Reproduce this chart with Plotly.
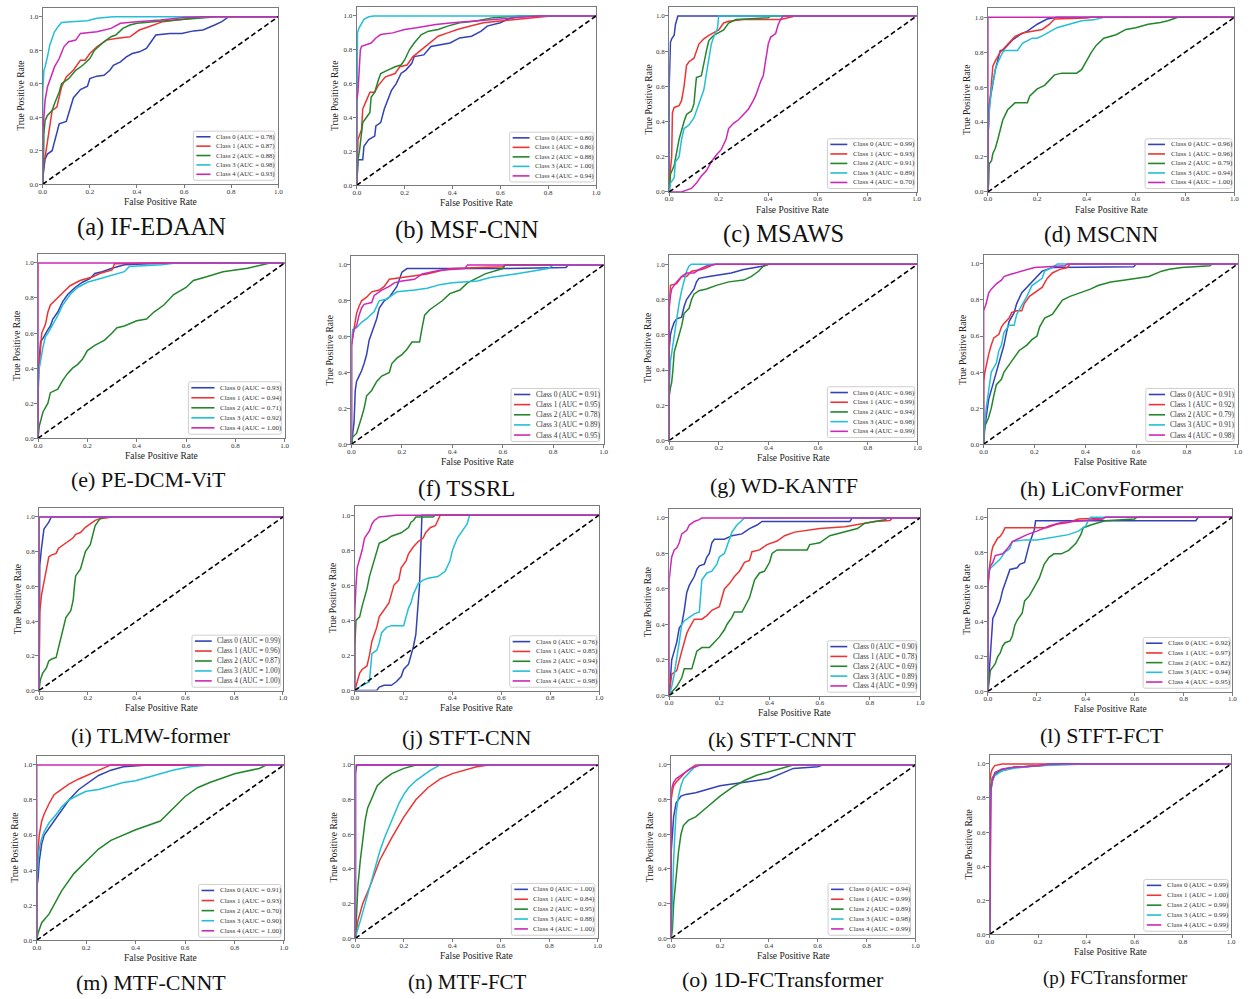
import plotly.graph_objects as go

W, H = 1259, 999
FONT = "Liberation Serif, Times New Roman, serif"

# ---------------- data ----------------
CLASS_LABELS = ["Class 0", "Class 1", "Class 2", "Class 3", "Class 4"]
CLASS_COLORS = ["#3342b5", "#ec3434", "#23862b", "#22bfd6", "#cc28b8"]
TICK_VALUES = [0.0, 0.2, 0.4, 0.6, 0.8, 1.0]
TICK_LABELS = ["0.0", "0.2", "0.4", "0.6", "0.8", "1.0"]
DIAG_FPR = [0.0, 1.0]
DIAG_TPR = [0.0, 1.0]
X_TITLE = "False Positive Rate"
Y_TITLE = "True Positive Rate"

PANEL_KEYS = ["a", "b", "c", "d", "e", "f", "g", "h", "i", "j", "k", "l", "m", "n", "o", "p"]
PANEL_TITLES = ["(a) IF-EDAAN", "(b) MSF-CNN", "(c) MSAWS", "(d) MSCNN",
                "(e) PE-DCM-ViT", "(f) TSSRL", "(g) WD-KANTF", "(h) LiConvFormer",
                "(i) TLMW-former", "(j) STFT-CNN", "(k) STFT-CNNT", "(l) STFT-FCT",
                "(m) MTF-CNNT", "(n) MTF-FCT", "(o) 1D-FCTransformer", "(p) FCTransformer"]

AUC_A = [0.78, 0.87, 0.88, 0.98, 0.93]
AUC_B = [0.80, 0.86, 0.88, 1.00, 0.94]
AUC_C = [0.99, 0.93, 0.91, 0.89, 0.70]
AUC_D = [0.96, 0.96, 0.79, 0.94, 1.00]
AUC_E = [0.93, 0.94, 0.71, 0.92, 1.00]
AUC_F = [0.91, 0.95, 0.78, 0.89, 0.95]
AUC_G = [0.96, 0.99, 0.94, 0.98, 0.99]
AUC_H = [0.91, 0.92, 0.79, 0.91, 0.98]
AUC_I = [0.99, 0.96, 0.87, 1.00, 1.00]
AUC_J = [0.76, 0.85, 0.94, 0.76, 0.98]
AUC_K = [0.90, 0.78, 0.69, 0.89, 0.99]
AUC_L = [0.92, 0.97, 0.82, 0.94, 0.95]
AUC_M = [0.91, 0.93, 0.70, 0.90, 1.00]
AUC_N = [1.00, 0.84, 0.95, 0.88, 1.00]
AUC_O = [0.94, 0.99, 0.89, 0.98, 0.99]
AUC_P = [0.99, 1.00, 0.99, 0.99, 0.99]

# ROC points (fpr, tpr)
A0 = [(0,0),(0.003,0.07),(0.01,0.15),(0.02,0.18),(0.04,0.2),(0.05,0.25),(0.06,0.3),(0.07,0.36),(0.1,0.375),(0.117,0.45),(0.13,0.515),(0.16,0.565),(0.19,0.585),(0.2,0.63),(0.23,0.645),(0.26,0.65),(0.285,0.68),(0.3,0.71),(0.33,0.73),(0.355,0.76),(0.38,0.78),(0.41,0.79),(0.44,0.81),(0.46,0.85),(0.48,0.89),(0.54,0.9),(0.59,0.9),(0.64,0.915),(0.68,0.92),(0.73,0.95),(0.76,0.97),(0.79,1.0),(1,1)]
A1 = [(0,0),(0.005,0.15),(0.01,0.16),(0.03,0.33),(0.04,0.44),(0.06,0.46),(0.08,0.58),(0.1,0.64),(0.13,0.68),(0.16,0.74),(0.18,0.74),(0.2,0.78),(0.23,0.82),(0.27,0.86),(0.31,0.87),(0.37,0.88),(0.41,0.92),(0.45,0.94),(0.51,0.97),(0.57,0.98),(0.62,0.99),(0.68,1.0),(1,1)]
A2 = [(0,0),(0.003,0.1),(0.005,0.3),(0.01,0.38),(0.02,0.41),(0.04,0.44),(0.05,0.48),(0.07,0.55),(0.08,0.6),(0.11,0.63),(0.14,0.68),(0.17,0.71),(0.2,0.75),(0.22,0.8),(0.26,0.85),(0.29,0.88),(0.31,0.89),(0.34,0.93),(0.37,0.95),(0.4,0.96),(0.47,0.97),(0.56,0.98),(0.65,0.99),(0.74,1.0),(1,1)]
A3 = [(0,0),(0,0.55),(0.005,0.68),(0.01,0.7),(0.02,0.76),(0.03,0.83),(0.04,0.87),(0.05,0.91),(0.065,0.94),(0.08,0.965),(0.12,0.97),(0.19,0.975),(0.23,0.99),(0.3,1.0),(1,1)]
A4 = [(0,0),(0,0.3),(0.005,0.4),(0.01,0.5),(0.02,0.58),(0.03,0.62),(0.05,0.7),(0.07,0.75),(0.09,0.82),(0.11,0.85),(0.14,0.86),(0.16,0.9),(0.23,0.91),(0.29,0.93),(0.33,0.96),(0.4,0.97),(0.5,0.98),(0.6,0.995),(0.68,1.0),(1,1)]

B0 = [(0,0),(0.002,0.05),(0.005,0.15),(0.025,0.15),(0.03,0.23),(0.05,0.27),(0.075,0.29),(0.08,0.35),(0.1,0.37),(0.115,0.45),(0.13,0.5),(0.145,0.56),(0.165,0.6),(0.185,0.66),(0.205,0.68),(0.23,0.72),(0.24,0.76),(0.28,0.77),(0.31,0.82),(0.35,0.83),(0.39,0.84),(0.43,0.87),(0.48,0.88),(0.52,0.91),(0.545,0.94),(0.6,0.96),(0.63,0.98),(0.68,1.0),(1,1)]
B1 = [(0,0),(0.002,0.15),(0.005,0.27),(0.02,0.33),(0.025,0.45),(0.04,0.5),(0.055,0.55),(0.075,0.55),(0.09,0.59),(0.12,0.64),(0.16,0.66),(0.18,0.7),(0.21,0.71),(0.235,0.76),(0.27,0.8),(0.3,0.84),(0.34,0.88),(0.38,0.9),(0.42,0.92),(0.475,0.94),(0.53,0.96),(0.6,0.97),(0.68,0.98),(0.76,0.99),(0.81,1.0),(1,1)]
B2 = [(0,0),(0.005,0.15),(0.012,0.21),(0.02,0.31),(0.025,0.37),(0.04,0.4),(0.055,0.43),(0.06,0.52),(0.075,0.55),(0.09,0.62),(0.1,0.66),(0.13,0.68),(0.16,0.7),(0.185,0.71),(0.2,0.74),(0.22,0.8),(0.24,0.84),(0.27,0.89),(0.3,0.91),(0.34,0.92),(0.38,0.94),(0.43,0.96),(0.5,0.97),(0.57,0.99),(0.68,1.0),(1,1)]
B3 = [(0,0),(0,0.7),(0.003,0.9),(0.01,0.93),(0.02,0.96),(0.03,0.98),(0.05,0.995),(0.07,1.0),(1,1)]
B4 = [(0,0),(0,0.5),(0.005,0.55),(0.01,0.7),(0.015,0.8),(0.02,0.82),(0.04,0.83),(0.06,0.84),(0.08,0.87),(0.1,0.89),(0.15,0.9),(0.2,0.92),(0.25,0.93),(0.33,0.95),(0.4,0.96),(0.5,0.97),(0.6,0.98),(0.7,0.99),(0.76,1.0),(1,1)]

C0 = [(0,0),(0,0.6),(0.005,0.85),(0.01,0.87),(0.02,0.89),(0.025,0.95),(0.035,1.0),(1,1)]
C1 = [(0,0),(0.003,0.1),(0.01,0.2),(0.013,0.45),(0.02,0.48),(0.04,0.49),(0.05,0.52),(0.06,0.6),(0.07,0.72),(0.08,0.74),(0.1,0.76),(0.11,0.8),(0.12,0.84),(0.14,0.87),(0.16,0.89),(0.2,0.92),(0.22,0.96),(0.24,0.97),(0.3,0.98),(0.45,0.98),(0.51,1.0),(1,1)]
C2 = [(0,0),(0.005,0.1),(0.02,0.15),(0.03,0.22),(0.04,0.3),(0.06,0.4),(0.07,0.44),(0.09,0.46),(0.1,0.5),(0.105,0.58),(0.11,0.65),(0.13,0.66),(0.14,0.74),(0.15,0.8),(0.16,0.86),(0.18,0.89),(0.22,0.92),(0.24,0.96),(0.27,0.98),(0.4,0.99),(0.41,1.0),(1,1)]
C3 = [(0,0),(0.005,0.05),(0.02,0.08),(0.025,0.17),(0.04,0.2),(0.05,0.3),(0.06,0.36),(0.08,0.38),(0.1,0.42),(0.12,0.5),(0.14,0.58),(0.15,0.67),(0.16,0.75),(0.17,0.84),(0.18,0.88),(0.195,0.93),(0.2,1.0),(1,1)]
C4 = [(0,0),(0.05,0.0),(0.07,0.01),(0.09,0.02),(0.11,0.05),(0.13,0.09),(0.15,0.12),(0.17,0.17),(0.19,0.21),(0.21,0.24),(0.23,0.3),(0.24,0.36),(0.26,0.39),(0.28,0.41),(0.3,0.44),(0.32,0.47),(0.34,0.52),(0.35,0.55),(0.37,0.63),(0.38,0.66),(0.39,0.75),(0.4,0.84),(0.41,0.88),(0.43,0.9),(0.44,0.95),(0.45,0.98),(0.46,1.0),(1,1)]

D0 = [(0,0),(0,0.3),(0.005,0.5),(0.01,0.55),(0.02,0.62),(0.03,0.7),(0.04,0.75),(0.05,0.81),(0.06,0.81),(0.08,0.84),(0.1,0.87),(0.13,0.9),(0.16,0.92),(0.2,0.96),(0.24,0.99),(0.28,1.0),(1,1)]
D1 = [(0,0),(0,0.3),(0.005,0.47),(0.01,0.55),(0.015,0.66),(0.02,0.72),(0.03,0.75),(0.04,0.78),(0.05,0.8),(0.07,0.83),(0.09,0.86),(0.11,0.89),(0.14,0.91),(0.18,0.92),(0.22,0.93),(0.25,0.96),(0.27,0.99),(0.4,0.995),(0.42,1.0),(1,1)]
D2 = [(0,0),(0.003,0.05),(0.005,0.16),(0.015,0.18),(0.02,0.22),(0.03,0.25),(0.04,0.3),(0.05,0.35),(0.06,0.41),(0.08,0.47),(0.1,0.5),(0.11,0.51),(0.16,0.51),(0.17,0.55),(0.2,0.59),(0.23,0.61),(0.25,0.64),(0.27,0.67),(0.3,0.68),(0.36,0.68),(0.38,0.7),(0.4,0.75),(0.42,0.8),(0.44,0.84),(0.47,0.88),(0.52,0.9),(0.56,0.93),(0.6,0.94),(0.65,0.96),(0.7,0.97),(0.73,0.98),(0.77,1.0),(1,1)]
D3 = [(0,0),(0,0.3),(0.005,0.45),(0.01,0.52),(0.015,0.6),(0.02,0.62),(0.03,0.7),(0.04,0.74),(0.05,0.77),(0.06,0.8),(0.07,0.81),(0.12,0.81),(0.14,0.85),(0.18,0.88),(0.2,0.88),(0.23,0.9),(0.28,0.94),(0.33,0.96),(0.38,0.98),(0.43,0.985),(0.47,1.0),(1,1)]
D4 = [(0,0),(0,1.0),(1,1)]

E0 = [(0,0),(0,0.35),(0.005,0.45),(0.01,0.55),(0.02,0.57),(0.03,0.6),(0.04,0.62),(0.05,0.64),(0.06,0.68),(0.08,0.72),(0.1,0.78),(0.12,0.82),(0.15,0.86),(0.18,0.89),(0.21,0.91),(0.23,0.94),(0.26,0.95),(0.3,0.97),(0.35,0.99),(0.45,0.995),(0.57,1.0),(1,1)]
E1 = [(0,0),(0,0.3),(0.005,0.42),(0.01,0.5),(0.015,0.6),(0.03,0.65),(0.04,0.72),(0.05,0.76),(0.07,0.79),(0.1,0.83),(0.13,0.87),(0.17,0.9),(0.22,0.92),(0.25,0.94),(0.3,0.96),(0.31,0.995),(0.48,1.0),(1,1)]
E2 = [(0,0),(0.005,0.07),(0.02,0.15),(0.04,0.2),(0.05,0.26),(0.08,0.28),(0.1,0.33),(0.12,0.37),(0.14,0.4),(0.16,0.42),(0.18,0.45),(0.2,0.5),(0.23,0.53),(0.27,0.56),(0.3,0.6),(0.32,0.63),(0.35,0.64),(0.4,0.67),(0.44,0.68),(0.47,0.72),(0.51,0.76),(0.55,0.82),(0.6,0.86),(0.63,0.9),(0.68,0.92),(0.75,0.95),(0.85,0.97),(0.92,0.99),(0.94,1.0),(1,1)]
E3 = [(0,0),(0,0.25),(0.005,0.4),(0.01,0.45),(0.02,0.52),(0.03,0.58),(0.04,0.6),(0.06,0.65),(0.08,0.7),(0.1,0.76),(0.13,0.82),(0.16,0.86),(0.2,0.89),(0.25,0.91),(0.3,0.93),(0.35,0.95),(0.37,0.98),(0.45,0.985),(0.5,0.99),(0.56,1.0),(1,1)]
E4 = [(0,0),(0,1.0),(1,1)]

F0 = [(0,0),(0.005,0.05),(0.01,0.12),(0.015,0.3),(0.02,0.35),(0.03,0.38),(0.04,0.41),(0.05,0.45),(0.06,0.5),(0.07,0.58),(0.08,0.62),(0.09,0.66),(0.1,0.7),(0.11,0.76),(0.13,0.8),(0.15,0.82),(0.18,0.88),(0.2,0.96),(0.22,0.98),(0.6,0.98),(0.85,0.985),(0.86,1.0),(1,1)]
F1 = [(0,0),(0,0.55),(0.005,0.6),(0.01,0.65),(0.015,0.7),(0.02,0.73),(0.03,0.77),(0.04,0.8),(0.06,0.82),(0.08,0.85),(0.11,0.86),(0.13,0.88),(0.15,0.92),(0.2,0.93),(0.25,0.94),(0.3,0.95),(0.36,0.97),(0.4,0.98),(0.6,0.99),(0.61,1.0),(1,1)]
F2 = [(0,0),(0.005,0.04),(0.02,0.06),(0.03,0.1),(0.04,0.15),(0.05,0.2),(0.06,0.27),(0.08,0.3),(0.1,0.35),(0.12,0.38),(0.15,0.4),(0.16,0.45),(0.18,0.48),(0.2,0.5),(0.22,0.53),(0.24,0.57),(0.27,0.57),(0.28,0.65),(0.29,0.72),(0.31,0.75),(0.33,0.77),(0.36,0.8),(0.39,0.84),(0.43,0.86),(0.46,0.9),(0.49,0.92),(0.53,0.95),(0.6,0.98),(0.61,1.0),(1,1)]
F3 = [(0,0),(0,0.6),(0.005,0.64),(0.02,0.65),(0.04,0.68),(0.06,0.7),(0.09,0.74),(0.11,0.8),(0.14,0.81),(0.16,0.83),(0.18,0.85),(0.25,0.86),(0.3,0.87),(0.35,0.89),(0.4,0.9),(0.5,0.91),(0.55,0.93),(0.65,0.95),(0.7,0.96),(0.78,0.98),(0.8,1.0),(1,1)]
F4 = [(0,0),(0,0.55),(0.005,0.6),(0.01,0.64),(0.02,0.66),(0.03,0.72),(0.04,0.76),(0.05,0.78),(0.08,0.79),(0.09,0.83),(0.12,0.86),(0.15,0.88),(0.17,0.9),(0.2,0.91),(0.25,0.92),(0.28,0.95),(0.35,0.97),(0.45,0.98),(0.46,1.0),(1,1)]

G0 = [(0,0),(0,0.52),(0.005,0.6),(0.01,0.63),(0.02,0.67),(0.03,0.69),(0.05,0.7),(0.06,0.76),(0.07,0.8),(0.08,0.82),(0.1,0.86),(0.11,0.9),(0.12,0.92),(0.16,0.93),(0.2,0.94),(0.25,0.95),(0.3,0.97),(0.35,0.98),(0.38,0.99),(0.4,1.0),(1,1)]
G1 = [(0,0),(0,0.8),(0.005,0.88),(0.03,0.89),(0.04,0.91),(0.05,0.93),(0.07,0.93),(0.09,0.96),(0.13,0.97),(0.15,0.98),(0.18,1.0),(1,1)]
G2 = [(0,0),(0,0.25),(0.005,0.3),(0.01,0.33),(0.015,0.4),(0.02,0.5),(0.03,0.55),(0.04,0.6),(0.05,0.65),(0.06,0.72),(0.08,0.75),(0.09,0.8),(0.1,0.83),(0.12,0.85),(0.15,0.86),(0.19,0.88),(0.24,0.9),(0.3,0.91),(0.33,0.93),(0.36,0.96),(0.38,0.99),(0.4,1.0),(1,1)]
G3 = [(0,0),(0,0.3),(0.005,0.45),(0.01,0.5),(0.02,0.6),(0.03,0.68),(0.04,0.78),(0.05,0.85),(0.06,0.9),(0.07,0.96),(0.08,0.99),(0.09,1.0),(1,1)]
G4 = [(0,0),(0,0.75),(0.005,0.82),(0.01,0.86),(0.02,0.88),(0.03,0.9),(0.05,0.93),(0.07,0.95),(0.1,0.95),(0.12,0.97),(0.15,0.99),(0.19,1.0),(1,1)]

H0 = [(0,0),(0.003,0.08),(0.01,0.15),(0.02,0.25),(0.03,0.3),(0.04,0.35),(0.05,0.4),(0.06,0.45),(0.07,0.5),(0.08,0.55),(0.09,0.62),(0.1,0.68),(0.12,0.73),(0.13,0.78),(0.15,0.84),(0.17,0.87),(0.19,0.9),(0.21,0.93),(0.23,0.96),(0.25,0.97),(0.27,0.98),(0.59,0.985),(0.6,1.0),(1,1)]
H1 = [(0,0),(0,0.35),(0.005,0.4),(0.01,0.44),(0.02,0.5),(0.03,0.55),(0.04,0.59),(0.06,0.61),(0.07,0.65),(0.08,0.67),(0.1,0.7),(0.11,0.73),(0.13,0.74),(0.15,0.74),(0.16,0.78),(0.18,0.82),(0.2,0.84),(0.23,0.87),(0.25,0.92),(0.27,0.95),(0.3,0.97),(0.33,0.98),(0.34,1.0),(1,1)]
H2 = [(0,0),(0.005,0.1),(0.02,0.15),(0.03,0.2),(0.04,0.27),(0.05,0.33),(0.07,0.36),(0.08,0.4),(0.1,0.44),(0.12,0.48),(0.14,0.52),(0.17,0.55),(0.19,0.58),(0.21,0.6),(0.22,0.65),(0.24,0.7),(0.27,0.72),(0.29,0.76),(0.31,0.8),(0.34,0.82),(0.38,0.84),(0.42,0.86),(0.45,0.88),(0.5,0.9),(0.55,0.91),(0.6,0.92),(0.65,0.93),(0.7,0.96),(0.73,0.97),(0.78,0.98),(0.89,0.99),(0.9,1.0),(1,1)]
H3 = [(0,0),(0.003,0.1),(0.01,0.2),(0.02,0.3),(0.03,0.4),(0.05,0.45),(0.06,0.52),(0.07,0.55),(0.08,0.62),(0.1,0.66),(0.12,0.66),(0.13,0.72),(0.15,0.77),(0.17,0.82),(0.19,0.88),(0.21,0.9),(0.23,0.92),(0.24,0.96),(0.27,0.98),(0.29,1.0),(1,1)]
H4 = [(0,0),(0,0.74),(0.01,0.78),(0.015,0.82),(0.02,0.84),(0.03,0.86),(0.05,0.89),(0.07,0.91),(0.08,0.93),(0.1,0.94),(0.15,0.96),(0.2,0.98),(0.32,0.99),(0.33,1.0),(1,1)]

I0 = [(0,0),(0,0.2),(0.003,0.72),(0.01,0.82),(0.015,0.87),(0.02,0.93),(0.03,0.95),(0.04,0.97),(0.05,1.0),(1,1)]
I1 = [(0,0),(0.003,0.45),(0.01,0.55),(0.02,0.62),(0.03,0.68),(0.04,0.77),(0.05,0.78),(0.07,0.79),(0.08,0.82),(0.1,0.84),(0.12,0.86),(0.14,0.88),(0.15,0.9),(0.17,0.91),(0.19,0.94),(0.21,0.96),(0.23,0.98),(0.25,0.99),(0.29,0.995),(0.3,1.0),(1,1)]
I2 = [(0,0),(0.005,0.06),(0.015,0.1),(0.03,0.13),(0.04,0.17),(0.05,0.18),(0.07,0.19),(0.08,0.25),(0.09,0.3),(0.1,0.37),(0.11,0.42),(0.13,0.46),(0.14,0.52),(0.145,0.6),(0.15,0.66),(0.17,0.7),(0.18,0.75),(0.19,0.8),(0.21,0.84),(0.22,0.9),(0.23,0.95),(0.24,0.97),(0.25,0.99),(0.27,1.0),(1,1)]
I3 = [(0,0),(0,1.0),(1,1)]
I4 = [(0,0),(0,1.0),(1,1)]

J0 = [(0,0),(0.09,0.0),(0.1,0.02),(0.12,0.03),(0.15,0.03),(0.17,0.05),(0.19,0.08),(0.2,0.12),(0.22,0.15),(0.23,0.2),(0.24,0.25),(0.25,0.32),(0.255,0.4),(0.26,0.5),(0.265,0.6),(0.27,0.8),(0.275,1.0),(1,1)]
J1 = [(0,0),(0.005,0.02),(0.01,0.05),(0.02,0.1),(0.03,0.12),(0.05,0.14),(0.06,0.2),(0.07,0.28),(0.08,0.32),(0.09,0.36),(0.1,0.42),(0.12,0.46),(0.14,0.5),(0.15,0.55),(0.16,0.6),(0.18,0.63),(0.19,0.7),(0.21,0.74),(0.22,0.78),(0.24,0.82),(0.26,0.85),(0.28,0.87),(0.29,0.9),(0.31,0.93),(0.33,0.94),(0.34,0.97),(0.35,1.0),(1,1)]
J2 = [(0,0),(0,0.25),(0.005,0.4),(0.02,0.42),(0.03,0.48),(0.04,0.53),(0.05,0.58),(0.06,0.65),(0.07,0.7),(0.08,0.75),(0.09,0.8),(0.1,0.84),(0.13,0.86),(0.15,0.88),(0.19,0.9),(0.22,0.93),(0.23,0.96),(0.24,0.97),(0.25,0.99),(0.32,0.99),(0.33,1.0),(1,1)]
J3 = [(0,0),(0.03,0.03),(0.06,0.05),(0.065,0.15),(0.07,0.21),(0.09,0.23),(0.1,0.27),(0.11,0.33),(0.13,0.36),(0.15,0.37),(0.2,0.37),(0.21,0.42),(0.22,0.47),(0.23,0.5),(0.24,0.55),(0.25,0.58),(0.26,0.61),(0.28,0.63),(0.3,0.64),(0.34,0.65),(0.37,0.68),(0.39,0.74),(0.4,0.8),(0.42,0.87),(0.44,0.91),(0.46,0.95),(0.47,1.0),(1,1)]
J4 = [(0,0),(0,0.45),(0.005,0.6),(0.01,0.7),(0.02,0.75),(0.03,0.8),(0.04,0.87),(0.05,0.89),(0.06,0.91),(0.07,0.95),(0.08,0.97),(0.1,0.99),(0.15,0.995),(0.17,1.0),(1,1)]

K0 = [(0,0),(0.005,0.1),(0.01,0.2),(0.02,0.25),(0.03,0.3),(0.04,0.38),(0.05,0.4),(0.06,0.48),(0.07,0.58),(0.08,0.62),(0.1,0.67),(0.11,0.71),(0.12,0.73),(0.14,0.74),(0.15,0.78),(0.16,0.8),(0.17,0.86),(0.18,0.88),(0.22,0.88),(0.25,0.9),(0.29,0.91),(0.32,0.94),(0.35,0.96),(0.37,0.98),(0.72,0.98),(0.73,1.0),(1,1)]
K1 = [(0,0),(0.005,0.05),(0.01,0.12),(0.03,0.14),(0.04,0.2),(0.05,0.25),(0.06,0.3),(0.07,0.35),(0.08,0.38),(0.1,0.43),(0.13,0.43),(0.15,0.45),(0.17,0.48),(0.2,0.5),(0.21,0.55),(0.22,0.6),(0.24,0.63),(0.26,0.67),(0.28,0.7),(0.3,0.75),(0.32,0.76),(0.33,0.81),(0.36,0.82),(0.39,0.85),(0.43,0.87),(0.46,0.9),(0.5,0.92),(0.55,0.93),(0.6,0.94),(0.7,0.95),(0.78,0.97),(0.82,0.98),(0.88,0.985),(0.89,1.0),(1,1)]
K2 = [(0,0),(0.01,0.02),(0.03,0.05),(0.05,0.1),(0.06,0.15),(0.09,0.15),(0.1,0.2),(0.11,0.25),(0.13,0.27),(0.16,0.27),(0.18,0.3),(0.2,0.33),(0.22,0.37),(0.23,0.4),(0.25,0.44),(0.26,0.47),(0.29,0.47),(0.31,0.52),(0.32,0.55),(0.33,0.6),(0.34,0.65),(0.36,0.69),(0.38,0.7),(0.4,0.75),(0.41,0.8),(0.43,0.82),(0.55,0.82),(0.56,0.85),(0.6,0.86),(0.64,0.9),(0.7,0.92),(0.75,0.94),(0.78,0.97),(0.82,0.98),(0.86,0.99),(0.87,1.0),(1,1)]
K3 = [(0,0),(0.01,0.05),(0.02,0.12),(0.03,0.2),(0.04,0.3),(0.05,0.4),(0.06,0.42),(0.08,0.44),(0.1,0.46),(0.12,0.47),(0.125,0.55),(0.13,0.65),(0.15,0.69),(0.17,0.7),(0.19,0.74),(0.2,0.78),(0.22,0.8),(0.23,0.84),(0.24,0.88),(0.25,0.92),(0.27,0.96),(0.29,0.99),(0.3,1.0),(1,1)]
K4 = [(0,0),(0,0.65),(0.005,0.72),(0.01,0.78),(0.02,0.82),(0.03,0.83),(0.04,0.86),(0.05,0.91),(0.07,0.93),(0.08,0.96),(0.1,0.98),(0.12,0.99),(0.13,1.0),(1,1)]

L0 = [(0,0),(0.005,0.1),(0.01,0.2),(0.015,0.35),(0.02,0.42),(0.03,0.45),(0.04,0.48),(0.05,0.52),(0.06,0.58),(0.07,0.62),(0.08,0.67),(0.09,0.7),(0.12,0.71),(0.13,0.73),(0.15,0.74),(0.16,0.8),(0.17,0.85),(0.18,0.89),(0.19,0.93),(0.195,0.98),(0.85,0.98),(0.86,1.0),(1,1)]
L1 = [(0,0),(0,0.6),(0.005,0.7),(0.01,0.76),(0.015,0.8),(0.02,0.83),(0.03,0.86),(0.04,0.88),(0.05,0.89),(0.06,0.91),(0.07,0.94),(0.15,0.94),(0.24,0.94),(0.28,0.96),(0.33,0.97),(0.35,0.98),(0.37,0.99),(0.47,0.995),(0.48,1.0),(1,1)]
L2 = [(0,0),(0.005,0.08),(0.01,0.12),(0.02,0.14),(0.03,0.16),(0.04,0.2),(0.05,0.22),(0.06,0.26),(0.07,0.28),(0.09,0.29),(0.1,0.32),(0.11,0.38),(0.12,0.41),(0.14,0.45),(0.15,0.52),(0.17,0.55),(0.19,0.6),(0.21,0.65),(0.23,0.73),(0.25,0.77),(0.27,0.79),(0.3,0.79),(0.33,0.81),(0.36,0.85),(0.38,0.9),(0.39,0.94),(0.43,0.96),(0.48,0.98),(0.6,0.99),(0.61,1.0),(1,1)]
L3 = [(0,0),(0,0.65),(0.005,0.7),(0.02,0.72),(0.05,0.76),(0.07,0.8),(0.09,0.82),(0.1,0.86),(0.15,0.87),(0.2,0.87),(0.25,0.88),(0.3,0.89),(0.33,0.9),(0.37,0.92),(0.4,0.95),(0.41,0.98),(0.42,1.0),(1,1)]
L4 = [(0,0),(0,0.6),(0.005,0.68),(0.01,0.72),(0.02,0.74),(0.03,0.78),(0.06,0.79),(0.08,0.82),(0.1,0.86),(0.13,0.88),(0.16,0.9),(0.2,0.92),(0.25,0.95),(0.3,0.97),(0.4,0.98),(0.47,0.99),(0.48,1.0),(1,1)]

M0 = [(0,0),(0,0.3),(0.005,0.35),(0.01,0.45),(0.02,0.55),(0.03,0.6),(0.05,0.64),(0.07,0.68),(0.1,0.74),(0.13,0.8),(0.17,0.86),(0.2,0.89),(0.25,0.94),(0.3,0.97),(0.35,0.99),(0.45,1.0),(1,1)]
M1 = [(0,0),(0,0.35),(0.005,0.5),(0.01,0.6),(0.02,0.68),(0.03,0.72),(0.05,0.78),(0.07,0.83),(0.1,0.86),(0.13,0.89),(0.17,0.92),(0.22,0.95),(0.27,0.98),(0.3,1.0),(1,1)]
M2 = [(0,0),(0.005,0.04),(0.02,0.1),(0.05,0.15),(0.1,0.28),(0.15,0.38),(0.2,0.45),(0.25,0.52),(0.3,0.57),(0.4,0.63),(0.5,0.68),(0.55,0.75),(0.6,0.82),(0.65,0.87),(0.7,0.9),(0.8,0.95),(0.9,0.98),(0.93,1.0),(1,1)]
M3 = [(0,0),(0,0.3),(0.005,0.45),(0.01,0.52),(0.02,0.58),(0.03,0.62),(0.05,0.67),(0.08,0.72),(0.1,0.76),(0.13,0.8),(0.17,0.83),(0.2,0.85),(0.25,0.86),(0.3,0.88),(0.35,0.9),(0.4,0.91),(0.45,0.93),(0.5,0.95),(0.55,0.97),(0.62,0.99),(0.7,1.0),(1,1)]
M4 = [(0,0),(0,1.0),(1,1)]

N0 = [(0,0),(0,0.95),(0.005,1.0),(1,1)]
N1 = [(0,0),(0.01,0.1),(0.03,0.2),(0.06,0.3),(0.1,0.45),(0.15,0.58),(0.2,0.7),(0.25,0.8),(0.3,0.87),(0.35,0.92),(0.4,0.95),(0.45,0.97),(0.5,0.99),(0.55,1.0),(1,1)]
N2 = [(0,0),(0.005,0.15),(0.01,0.3),(0.02,0.45),(0.03,0.58),(0.04,0.68),(0.05,0.75),(0.07,0.82),(0.09,0.88),(0.12,0.92),(0.15,0.95),(0.2,0.98),(0.25,1.0),(1,1)]
N3 = [(0,0),(0.005,0.03),(0.02,0.1),(0.04,0.2),(0.06,0.3),(0.08,0.4),(0.1,0.5),(0.12,0.58),(0.14,0.65),(0.16,0.72),(0.18,0.78),(0.2,0.83),(0.22,0.87),(0.25,0.91),(0.28,0.94),(0.31,0.97),(0.35,1.0),(1,1)]
N4 = [(0,0),(0,1.0),(1,1)]

O0 = [(0,0),(0,0.5),(0.005,0.6),(0.01,0.7),(0.02,0.78),(0.04,0.82),(0.06,0.83),(0.1,0.84),(0.15,0.86),(0.2,0.88),(0.3,0.9),(0.4,0.92),(0.45,0.95),(0.5,0.98),(0.6,0.99),(0.62,1.0),(1,1)]
O1 = [(0,0),(0,0.8),(0.005,0.85),(0.01,0.88),(0.02,0.9),(0.04,0.93),(0.06,0.96),(0.08,0.98),(0.1,1.0),(1,1)]
O2 = [(0,0),(0.005,0.05),(0.01,0.2),(0.02,0.35),(0.03,0.5),(0.04,0.6),(0.05,0.65),(0.07,0.68),(0.1,0.7),(0.15,0.76),(0.2,0.82),(0.25,0.87),(0.3,0.91),(0.35,0.94),(0.4,0.96),(0.45,0.98),(0.5,1.0),(1,1)]
O3 = [(0,0),(0.005,0.3),(0.01,0.45),(0.015,0.6),(0.02,0.72),(0.03,0.82),(0.04,0.88),(0.05,0.92),(0.07,0.95),(0.09,0.98),(0.11,1.0),(1,1)]
O4 = [(0,0),(0,0.85),(0.005,0.88),(0.01,0.9),(0.02,0.92),(0.04,0.94),(0.06,0.96),(0.08,0.98),(0.12,1.0),(1,1)]

P0 = [(0,0),(0,0.55),(0.003,0.85),(0.01,0.9),(0.02,0.94),(0.05,0.96),(0.1,0.98),(0.2,0.99),(0.3,1.0),(1,1)]
P1 = [(0,0),(0,0.9),(0.005,0.95),(0.01,0.97),(0.02,0.99),(0.05,1.0),(1,1)]
P2 = [(0,0),(0,0.8),(0.005,0.88),(0.01,0.92),(0.03,0.95),(0.06,0.97),(0.1,0.98),(0.2,0.99),(0.25,1.0),(1,1)]
P3 = [(0,0),(0,0.75),(0.005,0.85),(0.01,0.9),(0.02,0.93),(0.05,0.96),(0.1,0.975),(0.2,0.99),(0.4,1.0),(1,1)]
P4 = [(0,0),(0,0.3),(0.003,0.6),(0.005,0.85),(0.01,0.9),(0.02,0.95),(0.05,0.97),(0.1,0.98),(0.2,0.99),(0.25,1.0),(1,1)]

CURVES = {
    "a": [A0, A1, A2, A3, A4], "b": [B0, B1, B2, B3, B4], "c": [C0, C1, C2, C3, C4], "d": [D0, D1, D2, D3, D4],
    "e": [E0, E1, E2, E3, E4], "f": [F0, F1, F2, F3, F4], "g": [G0, G1, G2, G3, G4], "h": [H0, H1, H2, H3, H4],
    "i": [I0, I1, I2, I3, I4], "j": [J0, J1, J2, J3, J4], "k": [K0, K1, K2, K3, K4], "l": [L0, L1, L2, L3, L4],
    "m": [M0, M1, M2, M3, M4], "n": [N0, N1, N2, N3, N4], "o": [O0, O1, O2, O3, O4], "p": [P0, P1, P2, P3, P4],
}
AUCS = {"a": AUC_A, "b": AUC_B, "c": AUC_C, "d": AUC_D, "e": AUC_E, "f": AUC_F, "g": AUC_G, "h": AUC_H,
        "i": AUC_I, "j": AUC_J, "k": AUC_K, "l": AUC_L, "m": AUC_M, "n": AUC_N, "o": AUC_O, "p": AUC_P}

# ---------------- layout (pixel geometry) ----------------
# axes: x_left, x_right, y_pixel_of_0, y_pixel_of_1
GEOM = {
    "a": (39, 276.3, 185, 16.7), "b": (355.3, 596.3, 186, 16), "c": (670, 919.3, 192.7, 16), "d": (991, 1239.3, 192.7, 17.3),
    "e": (34.3, 282.7, 440, 264), "f": (350, 604, 446, 266), "g": (670, 920, 442.3, 265.3), "h": (986.7, 1242.7, 446, 265),
    "i": (35.3, 281, 693.3, 519), "j": (353.3, 599.3, 693.3, 517.3), "k": (670, 922.7, 698.3, 520), "l": (991, 1237.3, 694.3, 519.3),
    "m": (33, 282, 944, 768), "n": (354, 598, 942, 768), "o": (672, 918, 942, 768), "p": (993, 1236, 938, 767),
}
# legend boxes: left, top, right, bottom, font size
LEG = {
    "a": (190.7, 131.7, 272.7, 181, 6.7), "b": (509.3, 132.7, 594, 182.7, 6.7), "c": (829.3, 139.3, 916.7, 189.3, 7.0),
    "d": (1149.3, 139.3, 1236.7, 189.3, 7.0), "e": (185.7, 383.3, 279.3, 436, 7.0), "f": (510.7, 390, 600, 443.3, 7.3),
    "g": (829.3, 388.3, 917.3, 439.3, 7.0), "h": (1150, 390, 1239.3, 443.3, 7.3), "i": (189.3, 637.7, 278.3, 690, 7.2),
    "j": (509.3, 638.3, 597.3, 690, 7.0), "k": (829.3, 643.3, 919.3, 695, 7.3), "l": (1147.3, 640, 1235, 691, 7.1),
    "m": (196, 888, 279, 941, 7.0), "n": (511, 887, 595, 939, 7.0), "o": (830, 887, 913, 939, 7.0), "p": (1148, 883, 1233, 935, 7.0),
}
# caption center x, center y, font size
CAP = {
    "a": (148.5, 228, 24.5), "b": (466, 231, 24.5), "c": (785.5, 235, 24.5), "d": (1105, 235, 23),
    "e": (146, 481.7, 22), "f": (465.7, 490, 23), "g": (785.8, 487.3, 22), "h": (1106, 490, 22),
    "i": (148, 738.3, 22), "j": (466, 740, 22), "k": (784, 742.3, 22), "l": (1105.8, 738.3, 22),
    "m": (148, 986, 22), "n": (467, 986, 21), "o": (785, 983, 22), "p": (1120, 982, 19),
}


def px(x):
    return x / W


def py(y):
    return 1 - y / H


def rounded_path(l, t, r, b, rad):
    pts = [("M", l + rad, t), ("L", r - rad, t), ("Q", r, t, r, t + rad), ("L", r, b - rad),
           ("Q", r, b, r - rad, b), ("L", l + rad, b), ("Q", l, b, l, b - rad), ("L", l, t + rad),
           ("Q", l, t, l + rad, t)]
    s = ""
    for p in pts:
        cmd = p[0]
        coords = p[1:]
        parts = []
        for i in range(0, len(coords), 2):
            parts.append(f"{px(coords[i]):.5f},{py(coords[i + 1]):.5f}")
        s += cmd + " " + " ".join(parts) + " "
    return s + "Z"


def text_width_em(label):
    # approximate Times metrics
    widths = {"C": 0.667, "l": 0.278, "a": 0.444, "s": 0.389, " ": 0.25, "(": 0.333, ")": 0.333,
              "A": 0.722, "U": 0.722, "=": 0.564, ".": 0.25}
    return sum(widths.get(ch, 0.5) for ch in label)


fig = go.Figure()
layout_axes = {}
shapes = []
annotations = []

for k, key in enumerate(PANEL_KEYS):
    x0, x1, yb, yt = GEOM[key]
    ytop = yb - 1.05 * (yb - yt)
    idx = k + 1
    xa = "x" if idx == 1 else f"x{idx}"
    ya = "y" if idx == 1 else f"y{idx}"
    xname = "xaxis" if idx == 1 else f"xaxis{idx}"
    yname = "yaxis" if idx == 1 else f"yaxis{idx}"
    axis_common = dict(showgrid=False, zeroline=False, showline=True, mirror=True,
                       linecolor="#7a7a7a", linewidth=1, ticks="outside", ticklen=3,
                       tickcolor="#7a7a7a", tickwidth=1, tickvals=TICK_VALUES, ticktext=TICK_LABELS,
                       tickfont=dict(family=FONT, size=7, color="#333333"), fixedrange=True)
    layout_axes[xname] = dict(domain=[px(x0), px(x1)], anchor=ya, range=[0, 1],
                              ticklabelstandoff=-3, **axis_common)
    layout_axes[yname] = dict(domain=[py(yb), py(ytop)], anchor=xa, range=[0, 1.05],
                              ticklabelstandoff=-1, **axis_common)

    for c in range(5):
        pts = CURVES[key][c]
        fig.add_trace(go.Scatter(
            x=[p[0] for p in pts], y=[p[1] for p in pts], xaxis=xa, yaxis=ya, mode="lines",
            line=dict(color=CLASS_COLORS[c], width=1.5),
            name=f"{CLASS_LABELS[c]} (AUC = {AUCS[key][c]:.2f})", showlegend=False, hoverinfo="skip"))
    fig.add_trace(go.Scatter(x=DIAG_FPR, y=DIAG_TPR, xaxis=xa, yaxis=ya, mode="lines",
                             line=dict(color="black", width=1.6, dash="5px,3px"),
                             showlegend=False, hoverinfo="skip"))

    # axis titles
    annotations.append(dict(x=px((x0 + x1) / 2), y=py(yb + 17.8), xref="paper", yref="paper",
                            text=X_TITLE, showarrow=False, xanchor="center", yanchor="middle",
                            font=dict(family=FONT, size=9.5, color="#222222")))
    annotations.append(dict(x=px(x0 - 21.3), y=py((yb + ytop) / 2), xref="paper", yref="paper",
                            text=Y_TITLE, showarrow=False, xanchor="center", yanchor="middle",
                            textangle=-90, font=dict(family=FONT, size=9.5, color="#222222")))
    # caption
    cx, cy, cs = CAP[key]
    annotations.append(dict(x=px(cx), y=py(cy), xref="paper", yref="paper", text=PANEL_TITLES[k],
                            showarrow=False, xanchor="center", yanchor="middle",
                            font=dict(family=FONT, size=cs, color="#111111")))

    # legend box
    l, t, r, b, fs = LEG[key]
    shapes.append(dict(type="path", xref="paper", yref="paper", path=rounded_path(l, t, r, b, 2.0),
                       line=dict(color="#cfcfcf", width=1), fillcolor="rgba(255,255,255,0.9)", layer="above"))
    hgt = b - t
    for c in range(5):
        label = f"{CLASS_LABELS[c]} (AUC = {AUCS[key][c]:.2f})"
        tw = text_width_em(label) * fs
        tx = r - 2.5 - tw
        ry = t + hgt * (0.114 + 0.191 * c)
        shapes.append(dict(type="line", xref="paper", yref="paper", x0=px(l + 3), x1=px(tx - 3.5),
                           y0=py(ry), y1=py(ry), line=dict(color=CLASS_COLORS[c], width=1.6), layer="above"))
        annotations.append(dict(x=px(tx), y=py(ry), xref="paper", yref="paper", text=label,
                                showarrow=False, xanchor="left", yanchor="middle",
                                font=dict(family=FONT, size=fs, color="#333333")))

fig.update_layout(width=W, height=H, margin=dict(l=0, r=0, t=0, b=0, pad=0),
                  paper_bgcolor="white", plot_bgcolor="white", showlegend=False,
                  shapes=shapes, annotations=annotations, **layout_axes)

fig.write_html("out.html")
